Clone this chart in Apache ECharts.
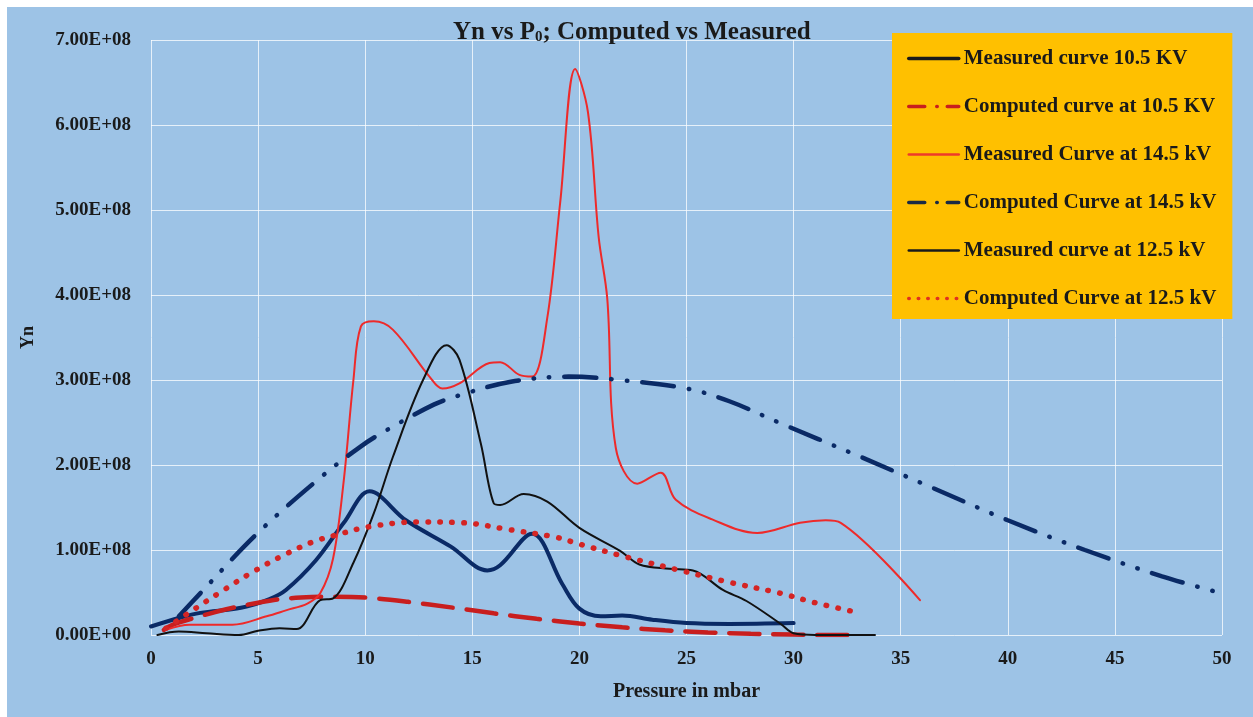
<!DOCTYPE html>
<html>
<head>
    <meta charset="utf-8">
    <title>Yn vs P0</title>
    <script src="https://cdn.jsdelivr.net/npm/echarts@6/dist/echarts.min.js"></script>
    <style>
        body { margin: 0; background: #fff; }
        #main { position: absolute; left: 7px; top: 7px; width: 1246px; height: 710px; }
    </style>
</head>
<body>
    <div id="main"></div>
    <script type="text/javascript">
        // pressure (mbar), Yn
        var measured105 = [[0, 1.0e7], [1.3, 2.0e7], [2.3, 2.6e7], [4.2, 3.2e7], [5.5, 4.2e7], [6.3, 5.3e7], [7.7, 8.8e7],
            [9.0, 1.32e8], [10.2, 1.69e8], [11.9, 1.35e8], [14.0, 1.04e8], [15.7, 0.76e8], [16.3, 0.82e8],
            [17.8, 1.19e8], [19.2, 0.6e8], [20, 0.31e8], [21, 0.22e8], [22, 0.23e8],
            [23.4, 0.18e8], [25, 0.14e8], [27, 0.13e8], [30, 0.14e8]];
        var computed105 = [[0.6, 0.6e7], [1, 1.2e7], [2, 2.0e7], [3, 2.7e7], [4, 3.3e7], [5, 3.8e7], [6, 4.2e7], [7, 4.4e7],
            [8.5, 4.5e7], [10, 4.4e7], [12, 3.9e7], [14, 3.25e7], [16, 2.55e7], [18, 1.9e7], [20, 1.35e7], [22, 0.9e7],
            [24, 0.55e7], [26, 0.3e7], [28, 0.15e7], [30, 0.05e7], [32, 0], [33, 0]];
        var measured145 = [[0.7, 0.6e7], [1.8, 1.2e7], [3.8, 1.2e7], [5.4, 2.2e7], [6.3, 2.9e7], [7.3, 3.7e7], [7.9, 4.9e7],
            [8.5, 9e7], [9.0, 1.82e8], [9.45, 3.0e8], [9.8, 3.63e8], [10.4, 3.69e8], [11.3, 3.59e8],
            [13.0, 3.04e8], [13.6, 2.9e8], [14.4, 2.96e8], [15.8, 3.2e8], [16.3, 3.21e8], [17.2, 3.06e8], [17.8, 3.04e8],
            [18.5, 3.73e8], [19.1, 5.08e8], [19.8, 6.66e8], [20.4, 6.15e8], [20.9, 4.68e8],
            [21.3, 3.96e8], [21.7, 2.2e8], [22.7, 1.78e8], [23.8, 1.91e8], [24.5, 1.59e8], [26.2, 1.36e8],
            [28.3, 1.2e8], [30.3, 1.32e8], [31.5, 1.35e8], [32.2, 1.32e8], [35.9, 0.41e8]];
        var computed145 = [[1.3, 2.2e7], [2.3, 4.9e7], [4.9, 1.18e8], [7.9, 1.85e8], [9.8, 2.22e8], [11, 2.41e8],
            [13.2, 2.71e8], [14.4, 2.82e8], [16.8, 2.98e8], [19.5, 3.04e8], [21.9, 3.0e8], [25, 2.9e8], [27, 2.75e8],
            [29.4, 2.49e8], [32.9, 2.12e8], [36.5, 1.73e8], [40, 1.35e8], [43.6, 1.0e8], [47.2, 0.69e8], [50, 0.49e8]];
        var measured125 = [[0.3, 0], [1.3, 0.4e7], [2.6, 0.2e7], [4.1, 0], [5, 0.5e7], [6, 0.8e7], [6.8, 0.7e7],
            [7.9, 4.1e7], [8.5, 4.3e7], [9.45, 8.5e7], [10.4, 1.43e8], [11.3, 2.1e8], [12.7, 3.0e8], [13.8, 3.41e8],
            [14.4, 3.24e8], [15.4, 2.25e8], [16.0, 1.55e8], [16.3, 1.53e8], [17.4, 1.66e8], [18.5, 1.57e8],
            [20, 1.26e8], [21.9, 0.99e8], [22.8, 0.83e8], [24.2, 0.78e8], [25.3, 0.76e8], [26.7, 0.53e8], [27.8, 0.4e8],
            [29.4, 0.13e8], [30, 0.02e8], [31, 0], [33.8, 0]];
        var computed125 = [[0.7, 0.8e7], [2, 3e7], [3.4, 5.3e7], [4.8, 7.5e7], [6.2, 9.4e7], [7.6, 1.1e8], [8.7, 1.18e8],
            [10.1, 1.27e8], [12.4, 1.33e8], [14.6, 1.32e8], [16.7, 1.24e8], [18.9, 1.15e8], [20, 1.07e8], [22, 0.93e8],
            [24.7, 0.76e8], [27, 0.62e8], [29.4, 0.49e8], [31, 0.38e8], [32.9, 0.27e8]];

        var seriesNames = ['Measured curve 10.5 KV', 'Computed curve at 10.5 KV', 'Measured Curve at 14.5 kV',
            'Computed Curve at 14.5 kV', 'Measured curve at 12.5 kV', 'Computed Curve at 12.5 kV'];

        var serif = '"Liberation Serif", "Times New Roman", serif';
        var navy = '#0a2a66';

        function sci(v) {
            if (v === 0) return '0.00E+00';
            var e = Math.floor(Math.log10(v) + 1e-9);
            var m = v / Math.pow(10, e);
            return m.toFixed(2) + 'E+' + (e < 10 ? '0' + e : e);
        }

        function line(name, data, color, width, dash) {
            return {
                name: name,
                type: 'line',
                data: data,
                symbol: 'none',
                smooth: 0.35,
                lineStyle: { color: color, width: width, type: dash, cap: 'round' },
                itemStyle: { color: color }
            };
        }

        var legendLines = [
            { color: '#1a1a1a', width: 3.5, type: 'solid' },
            { color: '#c81e1e', width: 3.5, type: [16, 12, 0.5, 10] },
            { color: '#ee3a2a', width: 2.5, type: 'solid' },
            { color: '#1a2a44', width: 3.5, type: [16, 12, 0.5, 10] },
            { color: '#1a1a1a', width: 2.5, type: 'solid' },
            { color: '#e03020', width: 3.5, type: [0.5, 9] }
        ];

        var myChart = echarts.init(document.getElementById('main'));

        var option = {
            backgroundColor: '#9dc3e6',
            animation: false,
            title: {
                text: '{a|Yn vs P}{s|0}{a|; Computed vs Measured}',
                left: 441,
                top: 8,
                textStyle: {
                    rich: {
                        a: { fontFamily: serif, fontWeight: 'bold', fontSize: 25, color: '#1a1a1a' },
                        s: { fontFamily: serif, fontWeight: 'bold', fontSize: 15, color: '#1a1a1a', verticalAlign: 'bottom', padding: [10, 0, 0, 0] }
                    }
                }
            },
            legend: {
                orient: 'vertical',
                left: 885,
                top: 26,
                backgroundColor: '#ffc000',
                padding: [15, 16, 10, 15],
                itemWidth: 50,
                itemHeight: 16,
                itemGap: 27,
                itemStyle: { opacity: 0 },
                textStyle: { fontFamily: serif, fontWeight: 'bold', fontSize: 21, lineHeight: 16, color: '#1a1a1a' },
                data: seriesNames.map(function (n, i) {
                    return { name: n, lineStyle: legendLines[i] };
                })
            },
            grid: { left: 144, right: 31, top: 33, bottom: 82 },
            xAxis: {
                type: 'value',
                min: 0,
                max: 50,
                interval: 5,
                name: 'Pressure in mbar',
                nameLocation: 'middle',
                nameGap: 47,
                nameTextStyle: { fontFamily: serif, fontWeight: 'bold', fontSize: 20, color: '#1a1a1a' },
                axisLine: { show: false },
                axisTick: { show: false },
                axisLabel: { margin: 15, fontFamily: serif, fontWeight: 'bold', fontSize: 19, color: '#1a1a1a' },
                splitLine: { show: true, lineStyle: { color: 'rgba(255,255,255,0.75)', width: 1 } }
            },
            yAxis: {
                type: 'value',
                min: 0,
                max: 7e8,
                interval: 1e8,
                name: 'Yn',
                nameLocation: 'middle',
                nameRotate: 90,
                nameGap: 114,
                nameTextStyle: { fontFamily: serif, fontWeight: 'bold', fontSize: 18, color: '#1a1a1a' },
                axisLine: { show: false },
                axisTick: { show: false },
                axisLabel: { margin: 20, fontFamily: serif, fontWeight: 'bold', fontSize: 19, color: '#1a1a1a', formatter: sci },
                splitLine: { show: true, lineStyle: { color: 'rgba(255,255,255,0.75)', width: 1 } }
            },
            series: [
                line(seriesNames[0], measured105, navy, 4, 'solid'),
                line(seriesNames[1], computed105, '#c81e1e', 4.5, [30, 14]),
                line(seriesNames[2], measured145, '#ee2a2a', 2, 'solid'),
                line(seriesNames[3], computed145, navy, 4.5, [32, 15, 0.5, 15, 0.5, 15]),
                line(seriesNames[4], measured125, '#111111', 2, 'solid'),
                line(seriesNames[5], computed125, '#d42424', 5.5, [0.5, 11.5])
            ]
        };

        myChart.setOption(option);
    </script>
</body>
</html>
